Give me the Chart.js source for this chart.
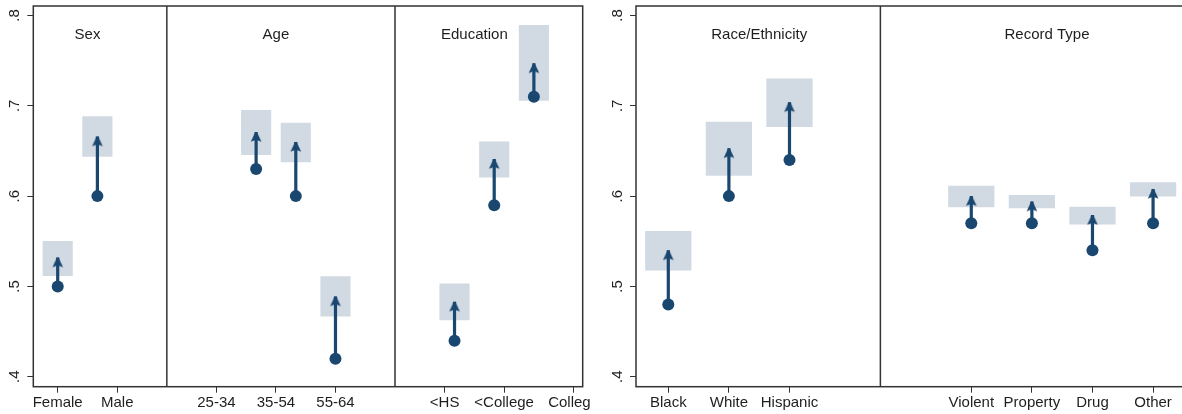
<!DOCTYPE html>
<html>
<head>
<meta charset="utf-8">
<script src="https://cdn.jsdelivr.net/npm/chart.js@4.4.1/dist/chart.umd.min.js"></script>
<style>
  html, body { margin: 0; padding: 0; background: #fff; overflow: hidden; }
  body { width: 1182px; height: 414px; position: relative; }
  canvas { position: absolute; top: 0; display: block; }
  #left { left: 0; }
  #right { left: 591px; }
</style>
</head>
<body>
<canvas id="left" width="591" height="414"></canvas>
<canvas id="right" width="604" height="414"></canvas>
<script>
const yTicks = [0.4, 0.5, 0.6, 0.7, 0.8];

// left panel: sex, age, education
const leftPos = [1, 2, 6, 7, 8, 11, 12, 13];
const leftBase = [0.50, 0.60, 0.63, 0.60, 0.42, 0.44, 0.59, 0.71];
const leftPred = [0.532, 0.666, 0.671, 0.660, 0.489, 0.483, 0.641, 0.747];
const leftLo = [0.512, 0.644, 0.646, 0.638, 0.467, 0.463, 0.621, 0.706];
const leftHi = [0.550, 0.688, 0.695, 0.681, 0.511, 0.503, 0.660, 0.789];
const leftTickPos = [1, 2.5, 5, 6.5, 8, 10.75, 12.25, 14];
const leftTickLabels = ["Female", "Male", "25-34", "35-54", "55-64", "<HS", "<College", "College"];
const leftDividers = [3.75, 9.5];
const leftTitles = ["Sex", "Age", "Education"];
const leftTitlePos = [1.75, 6.5, 11.5];

// right panel: race/ethnicity, record type
const rightPos = [1, 2, 3, 6, 7, 8, 9];
const rightBase = [0.48, 0.60, 0.64, 0.57, 0.57, 0.54, 0.57];
const rightPred = [0.540, 0.653, 0.704, 0.600, 0.594, 0.579, 0.608];
const rightLo = [0.518, 0.623, 0.677, 0.588, 0.587, 0.569, 0.600];
const rightHi = [0.561, 0.682, 0.730, 0.611, 0.601, 0.588, 0.615];
const rightTickLabels = ["Black", "White", "Hispanic", "Violent", "Property", "Drug", "Other"];
const rightDividers = [4.5];
const rightTitles = ["Race/Ethnicity", "Record Type"];
const rightTitlePos = [2.5, 7.25];

const Y_MIN = 0.389;
const Y_MAX = 0.8105;
const TITLE_Y = 0.778;

const NAVY = "#1a476f";
const CI_FILL = "#d1dae3";
const INK = "#1e1e1e";
const FRAME = "#333333";
const FONT = { family: "'Liberation Sans', Arial, sans-serif", size: 15 };

// arrowhead sprite: apex sits at the centre of the image so it lands on the point
function arrowHead(color) {
  const c = document.createElement("canvas");
  c.width = 14;
  c.height = 24;
  const g = c.getContext("2d");
  g.fillStyle = color;
  g.beginPath();
  g.moveTo(6.2, 12);
  g.lineTo(7.8, 12);
  g.lineTo(12.3, 21.8);
  g.lineTo(7, 19.8);
  g.lineTo(1.7, 21.8);
  g.closePath();
  g.fill();
  return c;
}

const frameAndTitles = {
  id: "frameAndTitles",
  afterDatasetsDraw(chart, args, opts) {
    const { ctx, chartArea: a, scales } = chart;
    ctx.save();
    ctx.strokeStyle = FRAME;
    ctx.lineWidth = 1.5;
    ctx.strokeRect(a.left, a.top, a.right - a.left, a.bottom - a.top);
    ctx.fillStyle = INK;
    ctx.font = `${FONT.size}px ${FONT.family}`;
    ctx.textAlign = "center";
    ctx.textBaseline = "middle";
    opts.titles.forEach((t, i) => {
      ctx.fillText(t, scales.x.getPixelForValue(opts.pos[i]), scales.y.getPixelForValue(TITLE_Y));
    });
    ctx.restore();
  },
};

function buildPanel(id, p) {
  const stems = [];
  p.pos.forEach((x, i) => {
    stems.push({ x, y: p.base[i] }, { x, y: p.pred[i] }, { x, y: null });
  });
  const dividers = [];
  p.dividers.forEach((x) => {
    dividers.push({ x, y: Y_MIN }, { x, y: Y_MAX }, { x, y: null });
  });
  const tickLabel = new Map(p.tickPos.map((v, i) => [v, p.tickLabels[i]]));

  return new Chart(document.getElementById(id), {
    type: "scatter",
    data: {
      datasets: [
        {
          type: "scatter",
          data: p.pos.map((x, i) => ({ x, y: p.pred[i] })),
          pointStyle: arrowHead(NAVY),
          pointRadius: 5,
          order: 0,
        },
        {
          type: "scatter",
          data: p.pos.map((x, i) => ({ x, y: p.base[i] })),
          backgroundColor: NAVY,
          borderWidth: 0,
          pointRadius: 6,
          order: 1,
        },
        {
          type: "line",
          data: stems,
          borderColor: NAVY,
          borderWidth: 3.2,
          borderCapStyle: "butt",
          pointRadius: 0,
          spanGaps: false,
          order: 2,
        },
        {
          type: "line",
          data: dividers,
          borderColor: FRAME,
          borderWidth: 1.5,
          pointRadius: 0,
          spanGaps: false,
          order: 3,
        },
        {
          type: "bar",
          data: p.pos.map((x, i) => ({ x, y: [p.lo[i], p.hi[i]] })),
          backgroundColor: CI_FILL,
          borderWidth: 0,
          barThickness: p.boxWidth,
          order: 4,
        },
      ],
    },
    options: {
      responsive: false,
      animation: false,
      devicePixelRatio: 1,
      events: [],
      layout: { padding: p.padding },
      plugins: {
        legend: { display: false },
        tooltip: { enabled: false },
        frameAndTitles: { titles: p.titles, pos: p.titlePos },
      },
      scales: {
        x: {
          type: "linear",
          min: p.xMin,
          max: p.xMax,
          offset: false,
          border: { display: false },
          grid: { offset: false, drawOnChartArea: false, tickLength: 6, color: FRAME, lineWidth: 1 },
          ticks: {
            font: FONT,
            color: INK,
            padding: 1,
            autoSkip: false,
            maxRotation: 0,
            callback: (v) => tickLabel.get(v) ?? "",
          },
          afterBuildTicks: (s) => { s.ticks = p.tickPos.map((value) => ({ value })); },
          afterFit: (s) => { s.height = 27.3; s.paddingLeft = 0; s.paddingRight = 0; },
        },
        y: {
          type: "linear",
          min: Y_MIN,
          max: Y_MAX,
          border: { display: false },
          grid: { drawOnChartArea: false, tickLength: 6, color: FRAME, lineWidth: 1 },
          ticks: {
            font: FONT,
            color: INK,
            padding: 6,
            minRotation: 90,
            maxRotation: 90,
            crossAlign: "center",
            callback: (v) => String(v).replace(/^0/, ""),
          },
          afterBuildTicks: (s) => { s.ticks = yTicks.map((value) => ({ value })); },
          afterFit: (s) => { s.width = p.yWidth; s.paddingTop = 0; s.paddingBottom = 0; },
        },
      },
    },
    plugins: [frameAndTitles],
  });
}

buildPanel("left", {
  pos: leftPos, base: leftBase, pred: leftPred, lo: leftLo, hi: leftHi,
  tickPos: leftTickPos, tickLabels: leftTickLabels,
  dividers: leftDividers, titles: leftTitles, titlePos: leftTitlePos,
  xMin: 0.385, xMax: 14.23, boxWidth: 29.5, yWidth: 33.3,
  padding: { top: 3.3, right: 8.3, bottom: 0, left: 0 },
});

buildPanel("right", {
  pos: rightPos, base: rightBase, pred: rightPred, lo: rightLo, hi: rightHi,
  tickPos: rightPos, tickLabels: rightTickLabels,
  dividers: rightDividers, titles: rightTitles, titlePos: rightTitlePos,
  xMin: 0.467, xMax: 9.55, boxWidth: 45.6, yWidth: 45,
  padding: { top: 3.3, right: 8.6, bottom: 0, left: 0 },
});
</script>
</body>
</html>
